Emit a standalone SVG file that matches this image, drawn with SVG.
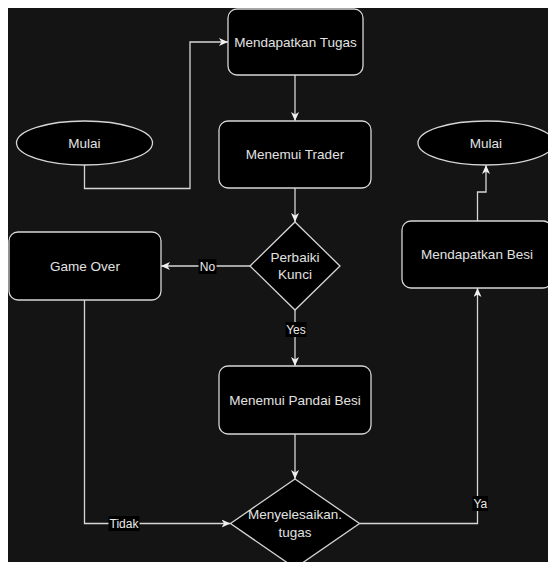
<svg xmlns="http://www.w3.org/2000/svg" width="548" height="562" viewBox="0 0 548 562">
<style>
.n{fill:#000;stroke:#d6d6d6;stroke-width:1.3}
.t{font-family:"Liberation Sans",Arial,sans-serif;font-size:13.5px;fill:#e2e2e2;text-anchor:middle}
.c{fill:none;stroke:#d6d6d6;stroke-width:1.3}
.lb{fill:#000}
.lt{font-family:"Liberation Sans",Arial,sans-serif;font-size:12px;fill:#ececec;text-anchor:middle}
</style>
<defs>
<marker id="ah" markerUnits="userSpaceOnUse" markerWidth="12" markerHeight="10" refX="9" refY="4" orient="auto">
<path d="M0,0 L9,4 L0,8 L2.5,4 z" fill="#f0f0f0"/>
</marker>
</defs>
<rect x="0" y="0" width="548" height="562" fill="#ffffff"/>
<rect x="8" y="8" width="540" height="554" fill="#141414"/>
<g id="connectors">
<path class="c" d="M84.5,165 V188.5 H190 V42 H228" marker-end="url(#ah)"/>
<path class="c" d="M295,75 V121" marker-end="url(#ah)"/>
<path class="c" d="M295,188 V222" marker-end="url(#ah)"/>
<path class="c" d="M250,266 H161" marker-end="url(#ah)"/>
<path class="c" d="M295,310 V366" marker-end="url(#ah)"/>
<path class="c" d="M295,434 V479" marker-end="url(#ah)"/>
<path class="c" d="M84.5,300 V523.5 H230.5" marker-end="url(#ah)"/>
<path class="c" d="M359.5,523.5 H477.5 V288" marker-end="url(#ah)"/>
<path class="c" d="M477.5,221 V192 H486 V165" marker-end="url(#ah)"/>
<rect class="lb" x="198.5" y="259" width="18" height="15"/>
<text class="lt" x="207.5" y="270.5">No</text>
<rect class="lb" x="285.5" y="322" width="21" height="15"/>
<text class="lt" x="296" y="333.5">Yes</text>
<rect class="lb" x="108.5" y="516" width="31" height="15"/>
<text class="lt" x="124" y="527.5">Tidak</text>
<rect class="lb" x="472.5" y="496" width="15.5" height="15"/>
<text class="lt" x="480.3" y="507.5">Ya</text>
</g>
<g id="mulai1">
<ellipse class="n" cx="84.5" cy="143" rx="68" ry="22"/>
<text class="t" x="84.5" y="147.7">Mulai</text>
</g>
<g id="tugas">
<rect class="n" x="228" y="9" width="135" height="66" rx="9"/>
<text class="t" x="295.5" y="46.7">Mendapatkan Tugas</text>
</g>
<g id="trader">
<rect class="n" x="219" y="121" width="152" height="67" rx="9"/>
<text class="t" x="295" y="159">Menemui Trader</text>
</g>
<g id="mulai2">
<ellipse class="n" cx="486" cy="143" rx="68" ry="22"/>
<text class="t" x="486" y="147.7">Mulai</text>
</g>
<g id="perbaiki">
<polygon class="n" points="295,222 340,266 295,310 250,266"/>
<text class="t" x="295" y="262">Perbaiki</text>
<text class="t" x="295" y="278.7">Kunci</text>
</g>
<g id="gameover">
<rect class="n" x="9" y="232" width="152" height="68" rx="9"/>
<text class="t" x="85" y="270.7">Game Over</text>
</g>
<g id="besi">
<rect class="n" x="402" y="221" width="150" height="67" rx="9"/>
<text class="t" x="477" y="259">Mendapatkan Besi</text>
</g>
<g id="pandai">
<rect class="n" x="219" y="366" width="152" height="68" rx="9"/>
<text class="t" x="295" y="404.7">Menemui Pandai Besi</text>
</g>
<g id="selesai">
<polygon class="n" points="295,479 359.5,523.5 295,568 230.5,523.5"/>
<text class="t" x="295" y="518.7">Menyelesaikan.</text>
<text class="t" x="295" y="536.7">tugas</text>
</g>
</svg>
